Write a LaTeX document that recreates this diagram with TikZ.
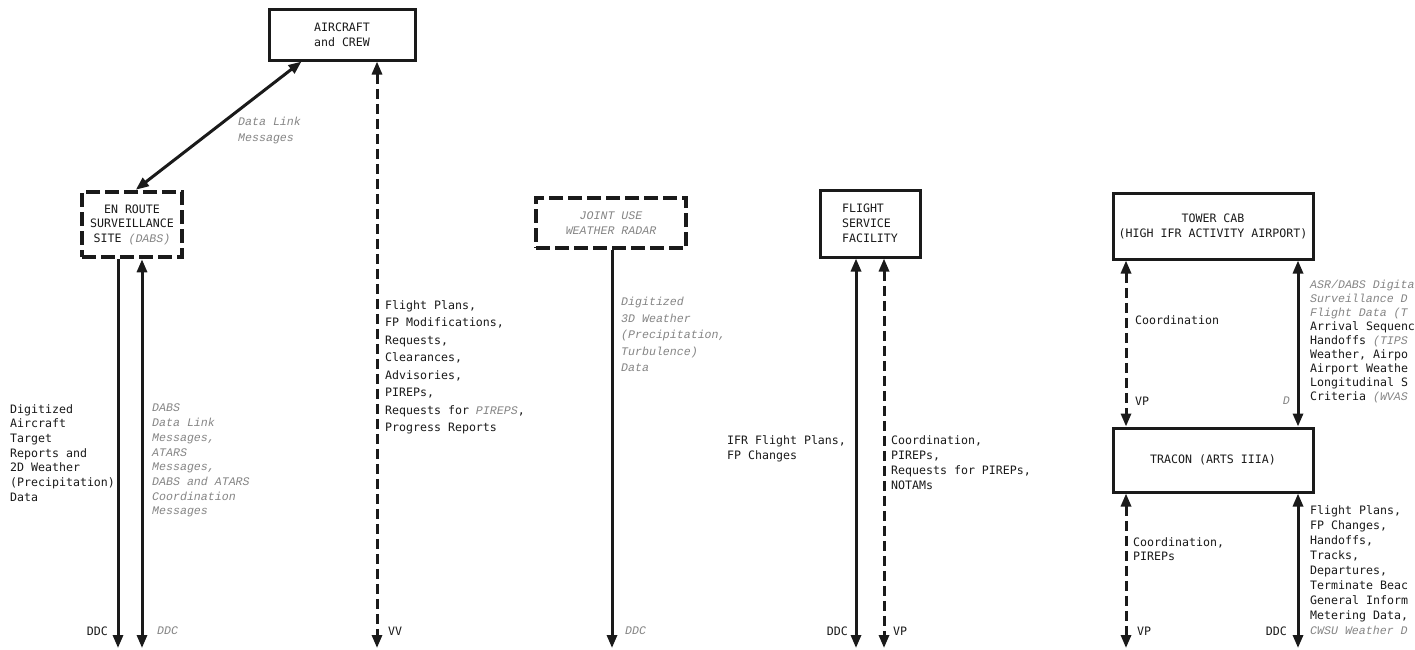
\documentclass[tikz,border=0pt]{standalone}
\usepackage{fontspec}
\setmainfont{DejaVu Sans Mono}
\newfontfamily\gifont{Liberation Mono}
\usetikzlibrary{arrows.meta}
\definecolor{ink}{HTML}{1A1A1A}
\definecolor{gtext}{HTML}{858585}
\newcommand\grit[1]{{\color{gtext}\gifont\itshape #1}}
\newcommand\txt[1]{\fontsize{11.6}{#1}\selectfont}
\tikzset{
  mytip/.tip={Triangle[length=13pt,width=10pt]},
  box/.style={draw=ink, line width=3pt, inner sep=0pt, align=center, text=ink},
  dbox/.style={box, line width=4.5pt, dash pattern=on 14pt off 5pt},
  sline/.style={draw=ink, line width=3pt},
  dline/.style={draw=ink, line width=3pt, dash pattern=on 10pt off 5pt},
  lbl/.style={anchor=north west, inner sep=0pt, align=left, text=ink},
  rlbl/.style={anchor=north east, inner sep=0pt, align=right, text=ink},
}
\begin{document}
\begin{tikzpicture}[x=1pt,y=-1pt]
\fill[white] (0,0) rectangle (1415,649);
\useasboundingbox (0,0) rectangle (1415,649);

% boxes
\node[box, minimum width=146pt, minimum height=51pt, font={\txt{15}}] (ac) at (342,34.5) {AIRCRAFT\\and CREW};
\node[dbox, minimum width=100pt, minimum height=65pt, font={\txt{14.5}}] (enr) at (132,224.5) {EN ROUTE\\SURVEILLANCE\\SITE \grit{(DABS)}};
\node[dbox, minimum width=150pt, minimum height=50pt, font={\txt{15}}] (jwr) at (611,223) {\grit{JOINT USE}\\\grit{WEATHER RADAR}};
\node[box, minimum width=100pt, minimum height=67pt, align=left, font={\txt{15}}] (fsf) at (870,223.5) {FLIGHT\\SERVICE\\FACILITY};
\node[box, minimum width=200pt, minimum height=66pt, font={\txt{15}}] (tower) at (1213,226) {TOWER CAB\\(HIGH IFR ACTIVITY AIRPORT)};
\node[box, minimum width=200pt, minimum height=64pt, font={\txt{15}}] (tracon) at (1213,460) {TRACON (ARTS IIIA)};

% bottom end points
\coordinate (enrA) at (118,648);
\coordinate (enrB) at (142,648);
\coordinate (acV) at (377,648);
\coordinate (jwrV) at (612,648);
\coordinate (fsfA) at (856,648);
\coordinate (fsfB) at (884,648);
\coordinate (trA) at (1126,648);
\coordinate (trB) at (1298,648);

% connectors
\draw[sline, {mytip}-{mytip}] ([xshift=34pt]ac.south west) -- ([xshift=56pt]enr.north west);
\draw[sline, -{mytip}] (enr.south -| enrA) -- (enrA);
\draw[sline, {mytip}-{mytip}] (enr.south -| enrB) -- (enrB);
\draw[dline, {mytip}-{mytip}] (ac.south -| acV) -- (acV);
\draw[sline, -{mytip}] (jwr.south -| jwrV) -- (jwrV);
\draw[sline, {mytip}-{mytip}] (fsf.south -| fsfA) -- (fsfA);
\draw[dline, {mytip}-{mytip}] (fsf.south -| fsfB) -- (fsfB);
\draw[dline, {mytip}-{mytip}] (tower.south -| trA) -- (tracon.north -| trA);
\draw[sline, {mytip}-{mytip}] (tower.south -| trB) -- (tracon.north -| trB);
\draw[dline, {mytip}-{mytip}] (tracon.south -| trA) -- (trA);
\draw[sline, {mytip}-{mytip}] (tracon.south -| trB) -- (trB);

% labels
\node[lbl, font={\txt{16}}] (dl) at (238,117) {\grit{Data Link}\\\grit{Messages}};
\node[lbl, font={\txt{14.7}}] (lt) at (10,404) {Digitized\\Aircraft\\Target\\Reports and\\2D Weather\\(Precipitation)\\Data};
\node[lbl, font={\txt{14.7}}] (dabs) at (152,404) {\grit{DABS}\\\grit{Data Link}\\\grit{Messages,}\\\grit{ATARS}\\\grit{Messages,}\\\grit{DABS and ATARS}\\\grit{Coordination}\\\grit{Messages}};
\node[rlbl, font={\txt{15}}] (ddc1) at (108,627) {DDC};
\node[lbl, font={\txt{15}}] (ddc2) at (157,627) {\grit{DDC}};
\node[lbl, font={\txt{17.5}}] (acl) at (385,300) {Flight Plans,\\FP Modifications,\\Requests,\\Clearances,\\Advisories,\\PIREPs,\\Requests for \grit{PIREPS},\\Progress Reports};
\node[lbl, font={\txt{15}}] (vv) at (388,627) {VV};
\node[lbl, font={\txt{16.5}}] (wx) at (621,297) {\grit{Digitized}\\\grit{3D Weather}\\\grit{(Precipitation,}\\\grit{Turbulence)}\\\grit{Data}};
\node[lbl, font={\txt{15}}] (ddc3) at (625,627) {\grit{DDC}};
\node[lbl, font={\txt{15}}] (ifr) at (727,435) {IFR Flight Plans,\\FP Changes};
\node[lbl, font={\txt{15.3}}] (fsl) at (891,435) {Coordination,\\PIREPs,\\Requests for PIREPs,\\NOTAMs};
\node[rlbl, font={\txt{15}}] (ddc4) at (848,627) {DDC};
\node[lbl, font={\txt{15}}] (vp1) at (893,627) {VP};
\node[lbl, font={\txt{15}}] (tco) at (1135,315) {Coordination};
\node[lbl, font={\txt{15}}] (vp2) at (1135,397) {VP};
\node[rlbl, font={\txt{15}}] (dd) at (1290,397) {\grit{D}};
\node[lbl, font={\txt{14}}] (trl) at (1310,280) {\grit{ASR/DABS Digita}\\\grit{Surveillance D}\\\grit{Flight Data (T}\\Arrival Sequenc\\Handoffs \grit{(TIPS}\\Weather, Airpo\\Airport Weathe\\Longitudinal S\\Criteria \grit{(WVAS}};
\node[lbl, font={\txt{14}}] (tcp) at (1133,537) {Coordination,\\PIREPs};
\node[lbl, font={\txt{15}}] (tbl) at (1310,505) {Flight Plans,\\FP Changes,\\Handoffs,\\Tracks,\\Departures,\\Terminate Beac\\General Inform\\Metering Data,\\\grit{CWSU Weather D}};
\node[lbl, font={\txt{15}}] (vp3) at (1137,627) {VP};
\node[rlbl, font={\txt{15}}] (ddc5) at (1287,627) {DDC};
\end{tikzpicture}
\end{document}
